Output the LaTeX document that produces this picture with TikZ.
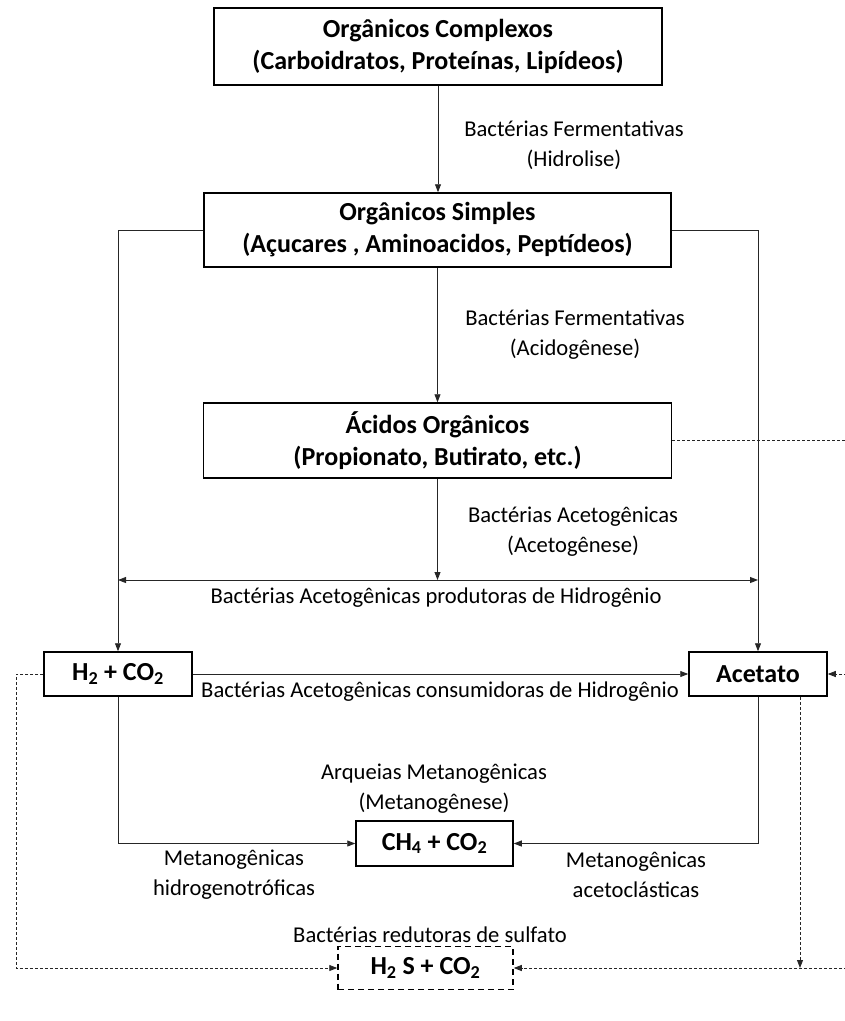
\documentclass[tikz,border=0pt]{standalone}
\usepackage{fontspec}
\setmainfont{Carlito}
\usetikzlibrary{arrows.meta,positioning}
\tikzset{
    >={Triangle[length=8pt,width=6pt]}, % pontas cheias
    caixa/.style={draw, line width=1.5pt, align=center, inner sep=0pt,
        font=\bfseries\fontsize{26}{32}\selectfont},
    rotulo/.style={align=center, inner sep=0pt, font=\fontsize{22.6}{30}\selectfont},
    fluxo/.style={->, line width=0.9pt, draw=black!85},
    tracejado/.style={->, line width=0.9pt, draw=black!85, dash pattern=on 3pt off 2pt},
}

\begin{document}
\begin{tikzpicture}[x=1pt, y=-1pt]
    \useasboundingbox (0,0) rectangle (845,1021);

    % Caixas
    \node[caixa, minimum width=448pt, minimum height=77pt] (complexos) at (438,46.5)
        {Orgânicos Complexos\\(Carboidratos, Proteínas, Lipídeos)};
    \node[caixa, minimum width=467pt, minimum height=74pt] (simples) at (437.5,230)
        {Orgânicos Simples\\(Açucares , Aminoacidos, Peptídeos)};
    \node[caixa, minimum width=468pt, minimum height=75pt] (acidos) at (437.5,440.5)
        {Ácidos Orgânicos\\(Propionato, Butirato, etc.)};
    \node[caixa, minimum width=148pt, minimum height=44pt] (h2co2) at (118,674)
        {H\textsubscript{2} + CO\textsubscript{2}};
    \node[caixa, minimum width=138pt, minimum height=44pt] (acetato) at (758,674)
        {Acetato};
    \node[caixa, minimum width=157pt, minimum height=45pt] (metano) at (434.5,843.5)
        {CH\textsubscript{4} + CO\textsubscript{2}};
    \node[caixa, dash pattern=on 6pt off 4pt, minimum width=175pt, minimum height=43pt] (sulfeto) at (425.5,968)
        {H\textsubscript{2} S + CO\textsubscript{2}};

    % Rotulos
    \node[rotulo] (hidrolise) at (574,145) {Bactérias Fermentativas\\(Hidrolise)};
    \node[rotulo] (acidogenese) at (575,335) {Bactérias Fermentativas\\(Acidogênese)};
    \node[rotulo] (acetogenese) at (573,532) {Bactérias Acetogênicas\\(Acetogênese)};
    \node[rotulo] (produtoras) at (436,598) {Bactérias Acetogênicas produtoras de Hidrogênio};
    \node[rotulo] (consumidoras) at (440,692) {Bactérias Acetogênicas consumidoras de Hidrogênio};
    \node[rotulo] (metanogenese) at (434,789) {Arqueias Metanogênicas\\(Metanogênese)};
    \node[rotulo] (hidrogenotroficas) at (234,875) {Metanogênicas\\hidrogenotróficas};
    \node[rotulo] (acetoclasticas) at (636,875) {Metanogênicas\\acetoclásticas};
    \node[rotulo] (redutoras) at (430,935) {Bactérias redutoras de sulfato};

    % Pontos auxiliares
    \coordinate (hidro) at (437,580);
    \coordinate (esq) at (16,968);
    \coordinate (dir) at (852,968);

    % Fluxos
    \draw[fluxo] (complexos.south) -- (complexos.south |- simples.north);
    \draw[fluxo] (simples.south) -- (simples.south |- acidos.north);
    \draw[fluxo] (simples.west) -| (h2co2.north);
    \draw[fluxo] (simples.east) -| (acetato.north);
    \draw[fluxo] (acidos.south) -- (acidos.south |- hidro);
    \draw[fluxo, <->] (h2co2.north |- hidro) -- (acetato.north |- hidro);
    \draw[fluxo] (h2co2.east) -- (acetato.west);
    \draw[fluxo] (h2co2.south) |- (metano.west);
    \draw[fluxo] (acetato.south) |- (metano.east);

    % Sulfato (tracejado)
    \draw[tracejado] (h2co2.west) -| (esq) -- (sulfeto.west);
    \draw[tracejado, -] (acidos.east) -| (dir);
    \draw[tracejado] (dir) -- (sulfeto.east);
    \draw[tracejado] (dir |- acetato.east) -- (acetato.east);
    \draw[tracejado] ([xshift=42pt]acetato.south) -- ([xshift=42pt]acetato.south |- dir);
\end{tikzpicture}
\end{document}
